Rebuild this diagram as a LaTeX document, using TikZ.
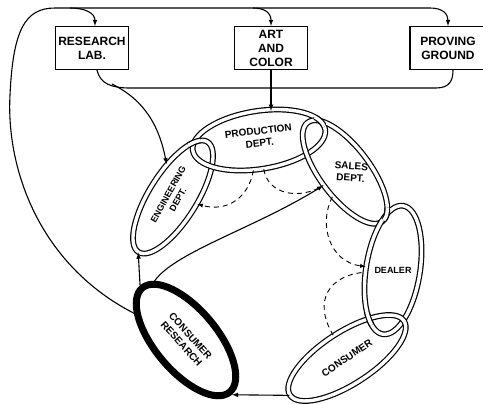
\documentclass[tikz,border=0pt]{standalone}
\usepackage{fontspec}
\newfontfamily\lettering{Liberation Sans}
\usetikzlibrary{shapes.geometric,intersections}

\tikzset{
  link/.style={ellipse, draw, double, double distance=3.4pt, line width=1.2pt, inner sep=0pt},
  box/.style={draw, line width=1.1pt, minimum width=73pt, minimum height=43pt, inner sep=1pt,
    align=center, font=\lettering\bfseries\large},
  tag/.style={align=center, inner sep=0pt, font=\lettering\bfseries\normalsize},
  feed/.style={->, line width=1.1pt},
  hint/.style={->, dashed, dash pattern=on 5pt off 4pt, line width=0.9pt},
}

\begin{document}
\begin{tikzpicture}[x=1pt,y=-1pt,>=latex]
    \clip (0,0) rectangle (483,405);

    % the three staff boxes
    \node[box] (rlab) at (92,48) {RESEARCH\\LAB.};
    \node[box] (art) at (271,48) {ART\\AND\\COLOR};
    \node[box, minimum width=76pt] (pground) at (448,48) {PROVING\\GROUND};

    % the chain of links
    \node[link, name path=engp, rotate=58, minimum width=130pt, minimum height=48pt] (eng) at (173,197) {};
    \node[link, name path=prodp, rotate=9, minimum width=134pt, minimum height=58pt] (prod) at (259,140) {};
    \node[link, name path=salesp, rotate=-53, minimum width=124pt, minimum height=50pt] (sales) at (345,172) {};
    \node[link, name path=dealerp, rotate=81, minimum width=130pt, minimum height=54pt] (dealer) at (393,270) {};
    \node[link, name path=consumerp, rotate=33, minimum width=136pt, minimum height=52pt] (consumer) at (347,358) {};
    \node[ellipse, draw, line width=7pt, rotate=-50, minimum width=136pt, minimum height=62pt,
      inner sep=0pt] (cres) at (186,340) {};

    % make the links hook into each other
    \path[name intersections={of=engp and prodp, name=ep}];
    \path[name intersections={of=prodp and salesp, name=ps}];
    \path[name intersections={of=salesp and dealerp, name=sd}];
    \path[name intersections={of=dealerp and consumerp, name=dc}];
    \begin{scope}
      \clip (ep-1) circle (7pt);
      \node[link, rotate=58, minimum width=130pt, minimum height=48pt] (engover) at (eng) {};
    \end{scope}
    \begin{scope}
      \clip (ps-1) circle (7pt);
      \node[link, rotate=9, minimum width=134pt, minimum height=58pt] (prodover) at (prod) {};
    \end{scope}
    \begin{scope}
      \clip (sd-1) circle (7pt);
      \node[link, rotate=-53, minimum width=124pt, minimum height=50pt] (salesover) at (sales) {};
    \end{scope}
    \begin{scope}
      \clip (dc-1) circle (7pt);
      \node[link, rotate=81, minimum width=130pt, minimum height=54pt] (dealerover) at (dealer) {};
    \end{scope}

    % texts of the links
    \node[tag, rotate=61, font=\lettering\bfseries\small] (engtext) at (eng) {ENGINEERING\\DEPT.};
    \node[tag, rotate=7] (prodtext) at ([yshift=3pt]prod.center) {PRODUCTION\\DEPT.};
    \node[tag, rotate=-4] (salestext) at ([xshift=6pt]sales.center) {SALES\\DEPT.};
    \node[tag, font=\lettering\bfseries\small] (dealertext) at (dealer) {DEALER};
    \node[tag, rotate=34] (consumertext) at (consumer) {CONSUMER};
    \node[tag, rotate=-48] (crestext) at (cres) {CONSUMER\\RESEARCH};

    % lines along the top
    \coordinate (top1) at (70,8);
    \coordinate (top2) at (253,8);
    \coordinate (top3) at (430,8);
    \coordinate (fork) at (112,84);
    \draw[feed] (cres) .. controls (40,265) and (6,170) .. (10,95)
        .. controls (13,30) and (25,8) .. (55,8) -- (top3)
        .. controls (443,8) and (448,14) .. (pground.north);
    \draw[feed] (top1) .. controls (85,8) and (95,13) .. ([xshift=3pt]rlab.north);
    \draw[feed] (top2) .. controls (265,8) and (271,13) .. (art.north);

    % lines under the boxes
    \draw[line width=1.1pt] ([xshift=5pt]rlab.south) .. controls (100,84) and (112,88) .. (130,88)
        -- (436,88) .. controls (450,88) and (453,80) .. ([xshift=5pt]pground.south);
    \draw[feed] (fork) .. controls (140,98) and (158,120) .. (eng);
    \draw[feed] (art) -- (art |- prod.north);

    % from consumer research
    \draw[feed] (cres.west) -- (eng.west);
    \draw[feed] (cres.168) .. controls (175,252) and (255,228) .. (sales);
    \draw[feed] (consumer.west) -- (cres.east);

    % dashed paths
    \draw[hint] (prod) .. controls (248,200) and (225,212) .. (eng);
    \draw[hint, -] (prod) .. controls (268,195) and (300,200) .. (sales);
    \draw[hint] (sales) .. controls (318,225) and (330,262) .. (dealer);
    \draw[hint, -] (consumer) .. controls (312,300) and (330,275) .. (dealer);
\end{tikzpicture}
\end{document}
